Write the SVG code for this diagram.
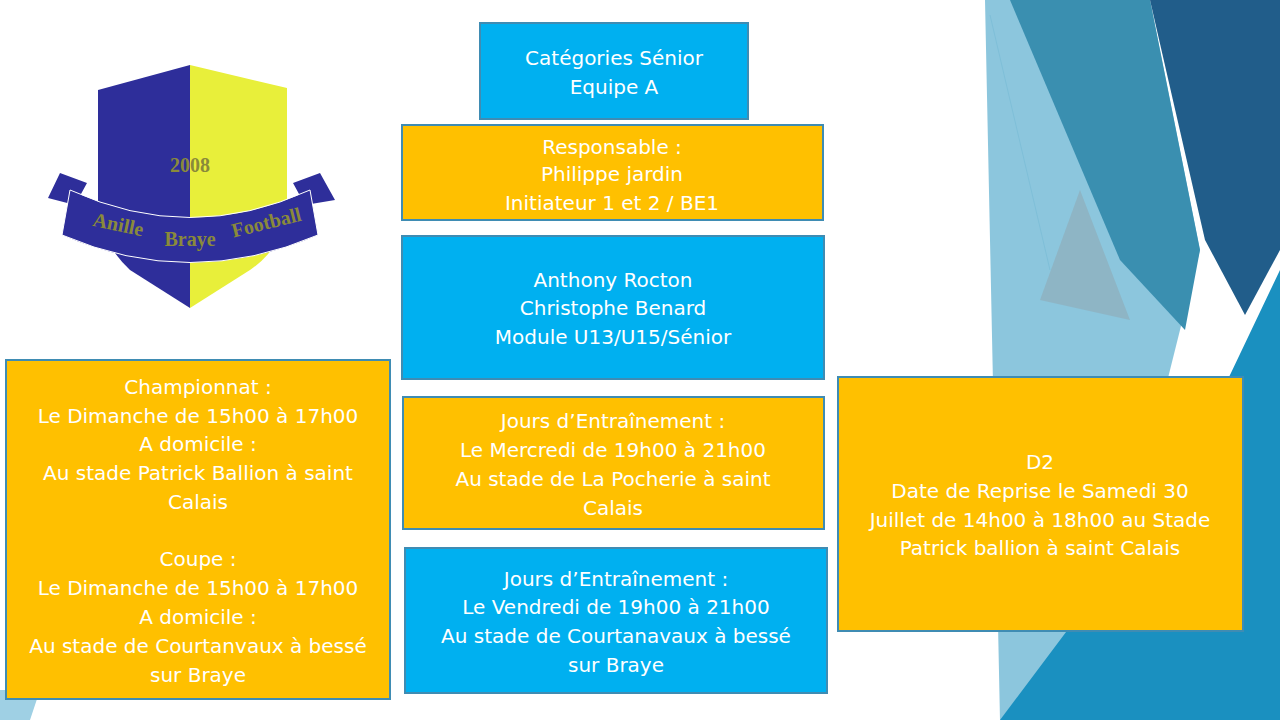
<svg xmlns="http://www.w3.org/2000/svg" width="1280" height="720" viewBox="0 0 1280 720">
<style>
.box{stroke:#3F8CB3;stroke-width:2}
.o{fill:#FFC000}.b{fill:#00B0F0}
text{font-family:"DejaVu Sans","Liberation Sans",sans-serif;font-size:20px;fill:#fff;text-anchor:middle}
.logo{font-family:"Liberation Serif",serif;font-weight:bold;fill:#8A8A3A}
</style>
<rect width="1280" height="720" fill="#fff"/>
<g id="background">
<polygon points="985,0 1150,0 1200,250 1150,450 1280,720 1000,720" fill="#6FB8D4" opacity="0.8"/>
<polygon points="1010,0 1150,0 1200,250 1185,330 1120,260" fill="#3A8FB0"/>
<polygon points="1150,0 1280,0 1280,250 1245,315 1205,240" fill="#215D8A"/>
<polygon points="1280,270 1280,720 1000,720 1180,480" fill="#1A90C0"/>
<polygon points="1080,190 1130,320 1040,300" fill="#8FAAB5" opacity="0.6"/>
<line x1="990" y1="15" x2="1050" y2="270" stroke="#7FBFD8" stroke-width="1"/>
<polygon points="0,690 40,690 30,720 0,720" fill="#9FD0E4"/>
</g>
<g id="logo">
<path d="M98,90 L190,65 L190,308 L130,270 Q98,240 98,200 Z" fill="#2E2E9A"/>
<path d="M190,65 L287,88 L287,200 Q287,245 250,270 L190,308 Z" fill="#E8EF3A"/>
<text x="190" y="172" class="logo" font-size="60">2008</text>
<path d="M60,173 L87,183 L75,205 L48,198 Z M320,173 L293,183 L305,205 L335,200 Z" fill="#2E2E9A"/>
<path d="M70,190 Q190,245 310,190 L318,235 Q190,290 62,235 Z" fill="#2E2E9A" stroke="#fff" stroke-width="1"/>
<text x="117" y="231" class="logo" font-size="18" transform="rotate(12 117 231)">Anille</text>
<text x="190" y="246" class="logo" font-size="18">Braye</text>
<text x="268" y="229" class="logo" font-size="18" transform="rotate(-14 268 229)">Football</text>
</g>
<g id="n1"><rect class="box b" x="480" y="23" width="268" height="96"/>
<text x="614" y="65">Catégories Sénior</text><text x="614" y="94">Equipe A</text></g>
<g id="n2"><rect class="box o" x="402" y="125" width="421" height="95"/>
<text x="612" y="154">Responsable :</text><text x="612" y="181">Philippe jardin</text><text x="612" y="210">Initiateur 1 et 2 / BE1</text></g>
<g id="n3"><rect class="box b" x="402" y="236" width="422" height="143"/>
<text x="613" y="287">Anthony Rocton</text><text x="613" y="315">Christophe Benard</text><text x="613" y="344">Module U13/U15/Sénior</text></g>
<g id="n4"><rect class="box o" x="6" y="360" width="384" height="339"/>
<text x="198" y="394">Championnat :</text><text x="198" y="423">Le Dimanche de 15h00 à 17h00</text><text x="198" y="451">A domicile :</text><text x="198" y="480">Au stade Patrick Ballion à saint</text><text x="198" y="509">Calais</text>
<text x="198" y="566">Coupe :</text><text x="198" y="595">Le Dimanche de 15h00 à 17h00</text><text x="198" y="624">A domicile :</text><text x="198" y="653">Au stade de Courtanvaux à bessé</text><text x="198" y="682">sur Braye</text></g>
<g id="n5"><rect class="box o" x="403" y="397" width="421" height="132"/>
<text x="613" y="428">Jours d’Entraînement :</text><text x="613" y="457">Le Mercredi de 19h00 à 21h00</text><text x="613" y="486">Au stade de La Pocherie à saint</text><text x="613" y="515">Calais</text></g>
<g id="n6"><rect class="box b" x="405" y="548" width="422" height="145"/>
<text x="616" y="586">Jours d’Entraînement :</text><text x="616" y="614">Le Vendredi de 19h00 à 21h00</text><text x="616" y="643">Au stade de Courtanavaux à bessé</text><text x="616" y="672">sur Braye</text></g>
<g id="n7"><rect class="box o" x="838" y="377" width="405" height="254"/>
<text x="1040" y="469">D2</text><text x="1040" y="498">Date de Reprise le Samedi 30</text><text x="1040" y="527">Juillet de 14h00 à 18h00 au Stade</text><text x="1040" y="555">Patrick ballion à saint Calais</text></g>
<g id="connectors"/>
</svg>
